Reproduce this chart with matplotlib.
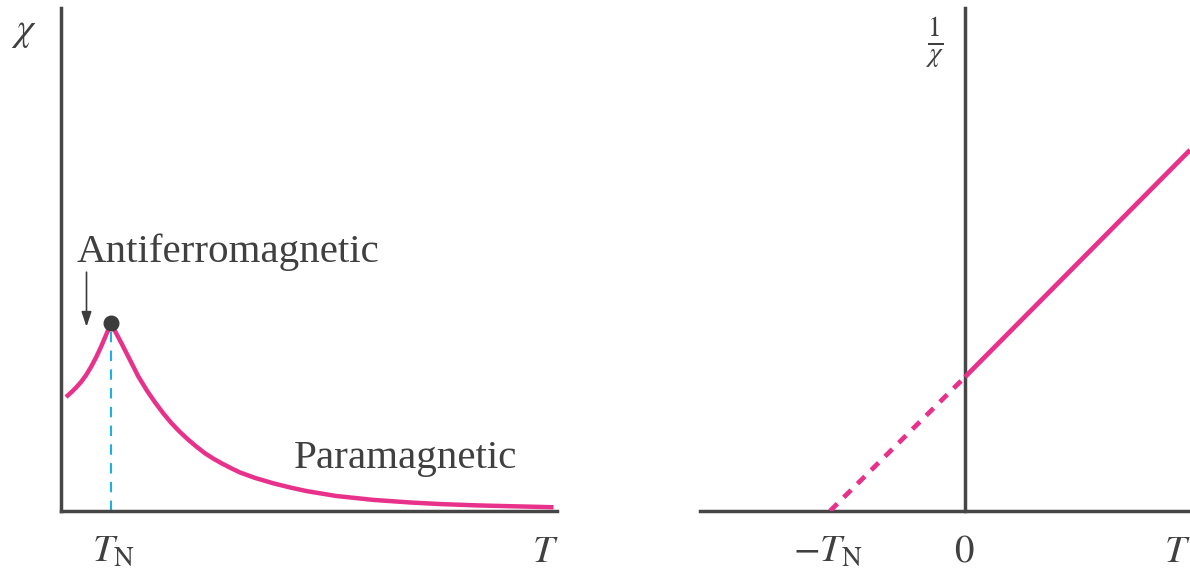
import numpy as np
import matplotlib.pyplot as plt

plt.rcParams['mathtext.fontset'] = 'stix'
plt.rcParams['font.family'] = ['Liberation Serif', 'DejaVu Serif']

# susceptibility chi(T), T in units of T_N, chi in units of the peak value
t_chi = [0.10, 0.20, 0.30, 0.40, 0.50, 0.60, 0.70, 0.80, 0.90, 1.00,
         1.10, 1.21, 1.38, 1.55, 1.72, 1.88, 2.05, 2.21, 2.38, 2.55, 2.72, 2.88,
         3.05, 3.21, 3.40, 3.58, 3.88, 4.25, 4.60, 4.91, 5.50, 6.25, 7.00,
         7.58, 8.30, 8.91, 9.85]
chi = [0.606, 0.630, 0.656, 0.686, 0.722, 0.766, 0.816, 0.873, 0.935, 1.000,
       0.947, 0.892, 0.803, 0.714, 0.640, 0.578, 0.518, 0.467, 0.420, 0.378,
       0.340, 0.307, 0.278, 0.254, 0.228, 0.205, 0.176, 0.147, 0.124, 0.106,
       0.080, 0.059, 0.045, 0.037, 0.030, 0.026, 0.020]
t_neel = 1.0
chi_peak = 1.0

# inverse susceptibility 1/chi(T)
t_inv_solid = [0.0, 1.667]
inv_solid = [1.0, 2.694]
t_inv_dash = [-1.0, 0.0]
inv_dash = [0.0, 1.0]

pink = '#e8318a'
dark = '#464646'
txt = '#404040'

W, H = 1190, 579
fig = plt.figure(figsize=(W / 100, H / 100), dpi=100)


def fx(px):
    return px / W


def fy(py):
    return 1 - py / H


# left panel
ax1 = fig.add_axes([fx(61), fy(511), (557 - 61) / W, (511 - 8) / H])
ax1.set_xlim(0, 496 / 50)
ax1.set_ylim(0, 503 / 188)
ax1.plot(t_chi, chi, color=pink, lw=3.2, solid_capstyle='butt',
         solid_joinstyle='round', zorder=3)
ax1.plot([t_neel, t_neel], [0, chi_peak], color='#1ab0ea', lw=1.5,
         dashes=(5, 4), zorder=2)
ax1.plot([t_neel], [chi_peak], 'o', color='#3c3c3c', ms=10.5, zorder=4)
ax1.annotate('', xy=(0.51, 0.965), xytext=(0.51, 1.285),
             arrowprops=dict(arrowstyle='-|>,head_length=0.9,head_width=0.3',
                             color='#3c3c3c', lw=1.2))
for s in ['top', 'right']:
    ax1.spines[s].set_visible(False)
for s in ['left', 'bottom']:
    ax1.spines[s].set_color(dark)
    ax1.spines[s].set_linewidth(2.5)
ax1.set_xticks([])
ax1.set_yticks([])

# right panel
ax2 = fig.add_axes([fx(700), fy(511), (1190 - 700) / W, (511 - 8) / H])
ax2.set_xlim(-265 / 135, 225 / 135)
ax2.set_ylim(0, 503 / 134)
ax2.plot(t_inv_solid, inv_solid, color=pink, lw=3.4, solid_capstyle='butt', zorder=3)
ax2.plot(t_inv_dash, inv_dash, color=pink, lw=3.4, dashes=(2.2, 1.9), zorder=3)
for s in ['top', 'right']:
    ax2.spines[s].set_visible(False)
ax2.spines['left'].set_position(('data', 0))
for s in ['left', 'bottom']:
    ax2.spines[s].set_color(dark)
    ax2.spines[s].set_linewidth(2.5)
ax2.set_xticks([])
ax2.set_yticks([])

# labels
fs = 28
fig.text(fx(24), fy(32), r'$\chi$', fontsize=fs, color=txt, ha='center', va='center')
fig.text(fx(77), fy(262), 'Antiferromagnetic', fontsize=29.5, color=txt,
         ha='left', va='baseline')
fig.text(fx(294), fy(468), 'Paramagnetic', fontsize=29.5, color=txt,
         ha='left', va='baseline')
fig.text(fx(92), fy(562), r'$T_{\mathrm{N}}$', fontsize=fs, color=txt,
         ha='left', va='baseline')
fig.text(fx(532), fy(562), r'$T$', fontsize=fs, color=txt, ha='left', va='baseline')
fig.text(fx(793), fy(562), r'$-T_{\mathrm{N}}$', fontsize=fs, color=txt,
         ha='left', va='baseline')
fig.text(fx(964), fy(562), r'$0$', fontsize=fs, color=txt, ha='center', va='baseline')
fig.text(fx(1164), fy(562), r'$T$', fontsize=fs, color=txt, ha='left', va='baseline')
fig.text(fx(935), fy(43), r'$\frac{1}{\chi}$', fontsize=fs, color=txt,
         ha='center', va='center')

fig.savefig('out.png', dpi=100)
